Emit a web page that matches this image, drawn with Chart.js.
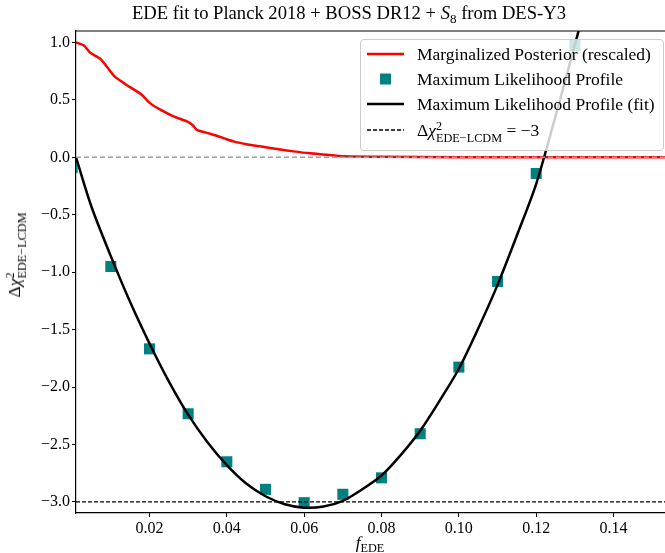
<!DOCTYPE html>
<html>
<head>
<meta charset="utf-8">
<script src="https://cdn.jsdelivr.net/npm/chart.js@4.4.1/dist/chart.umd.min.js"></script>
<style>
  body { margin: 0; background: #fff; }
  #wrap { position: relative; width: 665px; height: 553px; font-family: "Liberation Serif", "DejaVu Serif", serif; color: #000; overflow: hidden; }
  #wrap canvas { position: absolute; left: 0; top: 0; }
  .title { position: absolute; left: 349px; top: 3px; transform: translateX(-50%); white-space: nowrap; font-size: 18.6px; line-height: 20px; }
  .xlabel { position: absolute; left: 370px; top: 532px; transform: translateX(-50%); white-space: nowrap; font-size: 17.5px; line-height: 20px; }
  .ylabel { position: absolute; left: 16px; top: 255px; transform: translate(-50%, -50%) rotate(-90deg); white-space: nowrap; font-size: 17.5px; line-height: 20px; }
  sub { font-size: 70%; vertical-align: -0.3em; line-height: 0; }
  .ss { display: inline-block; vertical-align: -0.45em; line-height: 0.95em; font-size: 70%; }
  .ss span { display: block; }
  .legend { position: absolute; left: 360px; top: 39px; width: 302px; height: 110px; background: rgba(255,255,255,0.8); border: 1px solid #cccccc; border-radius: 4px; }
  .row { position: absolute; left: 0; height: 24px; width: 100%; font-size: 17.5px; line-height: 24px; white-space: nowrap; }
  .row svg { position: absolute; left: 6px; top: 2px; }
  .row .txt { position: absolute; left: 56px; top: 0; }
</style>
</head>
<body>
<div id="wrap">
  <canvas id="chart" width="665" height="553"></canvas>
  <div class="title">EDE fit to Planck 2018 + BOSS DR12 + <i>S</i><sub>8</sub> from DES-Y3</div>
  <div class="xlabel"><i>f</i><sub>EDE</sub></div>
  <div class="ylabel">Δ<i>χ</i><span class="ss"><span>2</span><span>EDE−LCDM</span></span></div>
  <div class="legend">
    <div class="row" style="top:2px"><svg width="40" height="20"><line x1="0" y1="10" x2="37" y2="10" stroke="#ff0000" stroke-width="2.5"/></svg><span class="txt">Marginalized Posterior (rescaled)</span></div>
    <div class="row" style="top:27px"><svg width="40" height="20"><rect x="13" y="4.5" width="11" height="11" fill="#008080"/></svg><span class="txt">Maximum Likelihood Profile</span></div>
    <div class="row" style="top:52px"><svg width="40" height="20"><line x1="0" y1="10" x2="37" y2="10" stroke="#000" stroke-width="2.5"/></svg><span class="txt">Maximum Likelihood Profile (fit)</span></div>
    <div class="row" style="top:78px"><svg width="40" height="20"><line x1="0" y1="10" x2="37" y2="10" stroke="#000" stroke-width="1.3" stroke-dasharray="4,2"/></svg><span class="txt">Δ<i>χ</i><span class="ss"><span>2</span><span>EDE−LCDM</span></span> = −3</span></div>
  </div>
</div>
<script>
// axis ranges and ticks
const xMin = 0.001, xMax = 0.1533;
const yMin = -3.096, yMax = 1.1;
const xTicks = [0.02, 0.04, 0.06, 0.08, 0.10, 0.12, 0.14];
const yTicks = [1.0, 0.5, 0.0, -0.5, -1.0, -1.5, -2.0, -2.5, -3.0];

// marginalized posterior (rescaled)
const postX = [0.001, 0.003, 0.0047, 0.0072, 0.0092, 0.0111, 0.0141, 0.016, 0.018, 0.0202, 0.0228, 0.0262, 0.0297, 0.0312, 0.0322, 0.0357, 0.039, 0.0417, 0.045, 0.0486, 0.053, 0.0572, 0.0615, 0.0659, 0.0702, 0.08, 0.10, 0.12, 0.1533];
const postY = [1.0, 0.975, 0.91, 0.86, 0.78, 0.70, 0.63, 0.59, 0.545, 0.47, 0.415, 0.357, 0.313, 0.28, 0.24, 0.206, 0.17, 0.139, 0.115, 0.096, 0.072, 0.052, 0.035, 0.023, 0.009, 0.005, 0.002, 0.001, 0.0];

// maximum likelihood profile points
const profX = [0.0, 0.01, 0.02, 0.03, 0.04, 0.05, 0.06, 0.07, 0.08, 0.09, 0.10, 0.11, 0.12, 0.13];
const profY = [-0.09, -0.95, -1.667, -2.232, -2.65, -2.89, -3.006, -2.933, -2.79, -2.406, -1.826, -1.08, -0.14, 0.974];

// fitted profile curve
const fitX = [0.001, 0.005, 0.01, 0.015, 0.02, 0.025, 0.03, 0.035, 0.04, 0.045, 0.05, 0.055, 0.06, 0.065, 0.07, 0.075, 0.08, 0.085, 0.09, 0.095, 0.10, 0.105, 0.11, 0.115, 0.12, 0.125, 0.13, 0.1315];
const fitY = [0.0, -0.43, -0.86, -1.26, -1.62, -1.95, -2.24, -2.48, -2.68, -2.84, -2.95, -3.02, -3.05, -3.04, -2.99, -2.89, -2.77, -2.59, -2.38, -2.12, -1.84, -1.49, -1.11, -0.68, -0.23, 0.36, 0.98, 1.17];

// reference levels
const levelMinus3 = -3;
const levelZero = 0;

function pts(xs, ys) {
    return xs.map((x, i) => ({ x: x, y: ys[i] }));
}

function fmtY(v) {
    return (v < 0 ? '\u2212' : '') + Math.abs(v).toFixed(1);
}

const serif = "'Liberation Serif', 'DejaVu Serif', serif";
Chart.defaults.font.family = serif;
const tickFont = { family: serif, size: 16 };

function drawChart() {
    new Chart(document.getElementById('chart'), {
        type: 'scatter',
        data: {
            datasets: [
                {
                    label: 'zero',
                    data: pts([xMin, xMax], [levelZero, levelZero]),
                    showLine: true, borderColor: '#a0a0a0', borderWidth: 1.5, borderDash: [5, 3],
                    pointRadius: 0, order: 0
                },
                {
                    label: 'minus3',
                    data: pts([xMin, xMax], [levelMinus3, levelMinus3]),
                    showLine: true, borderColor: '#000', borderWidth: 1.3, borderDash: [4, 2],
                    pointRadius: 0, order: 1
                },
                {
                    label: 'Maximum Likelihood Profile (fit)',
                    data: pts(fitX, fitY),
                    showLine: true, borderColor: '#000', borderWidth: 2.5, tension: 0.3,
                    pointRadius: 0, order: 2
                },
                {
                    label: 'Maximum Likelihood Profile',
                    data: pts(profX, profY),
                    pointStyle: 'rect', pointRadius: 7.8, pointBorderWidth: 0,
                    backgroundColor: '#008080', borderColor: '#008080', order: 3
                },
                {
                    label: 'Marginalized Posterior (rescaled)',
                    data: pts(postX, postY),
                    showLine: true, borderColor: '#ff0000', borderWidth: 2.5, tension: 0.2,
                    pointRadius: 0, order: 4
                }
            ]
        },
        options: {
            responsive: false,
            animation: false,
            layout: { autoPadding: false, padding: { top: 31, right: 0, left: 0, bottom: 0 } },
            plugins: { legend: { display: false }, tooltip: { enabled: false } },
            scales: {
                x: {
                    type: 'linear', min: xMin, max: xMax,
                    afterBuildTicks: axis => { axis.ticks = xTicks.map(v => ({ value: v })); },
                    afterFit: axis => { axis.height = 40; axis.paddingLeft = 0; axis.paddingRight = 0; },
                    grid: { drawOnChartArea: false, drawTicks: true, tickLength: 4, color: '#000', tickWidth: 1 },
                    border: { display: true, color: '#000', width: 1.2 },
                    ticks: { color: '#000', font: tickFont, padding: 2, maxRotation: 0, callback: v => v.toFixed(2) }
                },
                y: {
                    type: 'linear', min: yMin, max: yMax,
                    afterBuildTicks: axis => { axis.ticks = yTicks.map(v => ({ value: v })); },
                    afterFit: axis => { axis.width = 76; axis.paddingTop = 0; axis.paddingBottom = 0; },
                    grid: { drawOnChartArea: false, drawTicks: true, tickLength: 4, color: '#000', tickWidth: 1 },
                    border: { display: true, color: '#000', width: 1.2 },
                    ticks: { color: '#000', font: tickFont, padding: 2, callback: v => fmtY(v) }
                }
            }
        },
        plugins: [{
            id: 'frame',
            afterDraw(chart) {
                const a = chart.chartArea, ctx = chart.ctx;
                ctx.save();
                ctx.strokeStyle = '#000';
                ctx.lineWidth = 1.2;
                ctx.beginPath();
                ctx.moveTo(a.left, a.top);
                ctx.lineTo(a.right, a.top);
                ctx.stroke();
                ctx.restore();
            }
        }]
    });
}

// make sure the serif face is ready before the canvas text is drawn
document.fonts.load('16px "Liberation Serif"').then(drawChart, drawChart);
</script>
</body>
</html>
